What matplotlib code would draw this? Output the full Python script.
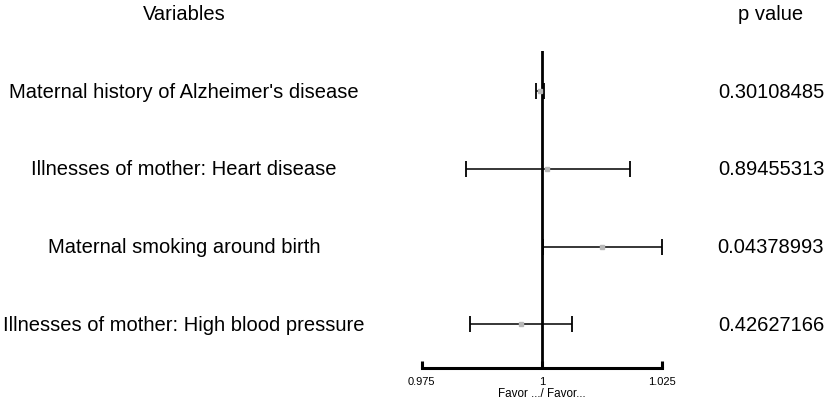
import matplotlib
matplotlib.use("Agg")
import matplotlib.pyplot as plt
from matplotlib.transforms import blended_transform_factory

plt.rcParams['font.family'] = ['Liberation Sans', 'DejaVu Sans']

variables = ["Maternal history of Alzheimer's disease",
             "Illnesses of mother: Heart disease",
             "Maternal smoking around birth",
             "Illnesses of mother: High blood pressure"]
estimates = [0.99965, 1.00104, 1.01256, 0.99557]
lower = [0.99884, 0.98430, 1.00020, 0.98511]
upper = [1.00040, 1.01823, 1.02489, 1.00632]
p_values = ["0.30108485", "0.89455313", "0.04378993", "0.42627166"]
xticks = [0.975, 1, 1.025]
xtick_labels = ["0.975", "1", "1.025"]

W, H = 829, 406
fig = plt.figure(figsize=(W / 100, H / 100), dpi=100)
left, right, top, bottom = 421.7, 662.3, 52, 368.5
ax = fig.add_axes([left / W, 1 - bottom / H, (right - left) / W, (bottom - top) / H])

n = len(variables)
ypos = list(range(n, 0, -1))
ax.set_xlim(0.975, 1.025)
ax.set_ylim(0.446, n + 0.515)

ax.axvline(1, color='black', lw=2.0, zorder=1)
for y, e, lo, hi in zip(ypos, estimates, lower, upper):
    ax.errorbar([e], [y], xerr=[[e - lo], [hi - e]], fmt='none', ecolor='black',
                elinewidth=1.1, capsize=5.8, capthick=1.3, zorder=2)
    ax.plot([e], [y], marker='s', ms=2.2, color='#b8b8b8', mec='#b8b8b8', zorder=3, ls='none')

for s in ['left', 'right', 'top']:
    ax.spines[s].set_visible(False)
ax.spines['bottom'].set_linewidth(2.2)
ax.set_yticks([])
ax.set_xticks(xticks)
ax.set_xticklabels(xtick_labels, fontsize=8)
ax.tick_params(axis='x', direction='in', length=5, width=2.2, pad=6)
ax.set_xlabel("Favor .../ Favor...", fontsize=8.4, labelpad=1)

tr = blended_transform_factory(fig.transFigure, ax.transData)
for y, name, p in zip(ypos, variables, p_values):
    ax.text(184 / W, y, name, transform=tr, ha='center', va='center', fontsize=14.5, clip_on=False)
    ax.text(771 / W, y, p, transform=tr, ha='center', va='center', fontsize=14.5, clip_on=False)

fig.text(184 / W, 1 - 15 / H, "Variables", ha='center', va='center', fontsize=14.5)
fig.text(771 / W, 1 - 15 / H, "p value", ha='center', va='center', fontsize=14.5)

fig.savefig("out.png", dpi=100)
